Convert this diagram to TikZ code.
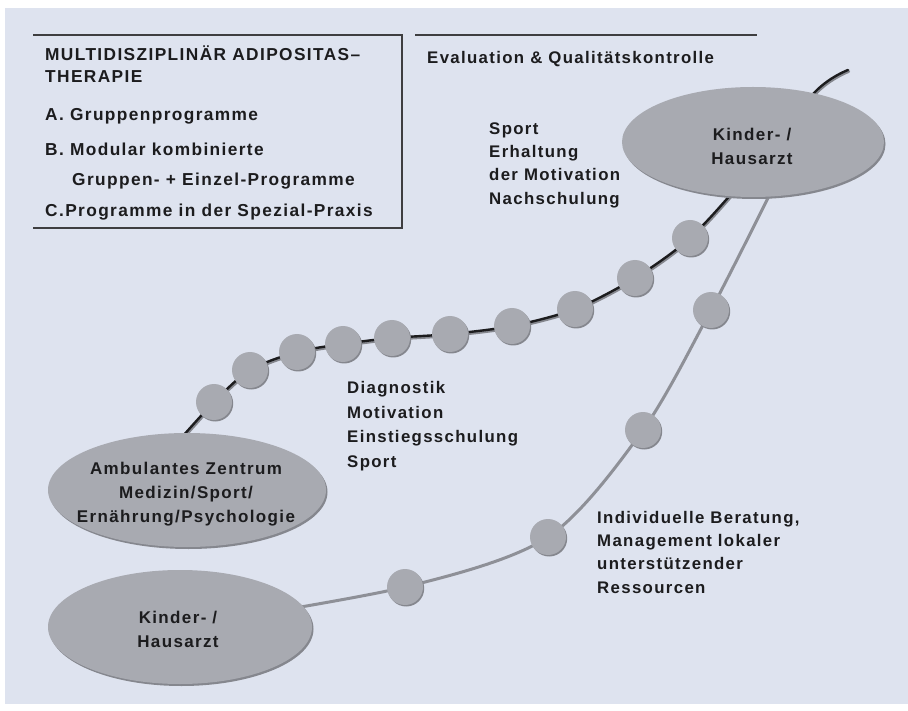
\documentclass[tikz,border=0pt]{standalone}
\usepackage{fontspec}
\setmainfont{Liberation Sans}[LetterSpace=8]
\usetikzlibrary{shapes.geometric,shadows}
\definecolor{bgc}{HTML}{DEE3EF}
\definecolor{blob}{HTML}{A8AAB1}
\definecolor{blobsh}{HTML}{85878E}
\definecolor{lowc}{HTML}{8E9097}
\definecolor{ink}{HTML}{1C1C1E}
\pgfdeclarelayer{back}
\pgfdeclarelayer{lines}
\pgfsetlayers{back,lines,main}
\begin{document}
\begin{tikzpicture}[x=1pt,y=-1pt,
  oval/.style={ellipse, fill=blob, inner sep=0pt,
    copy shadow={shadow xshift=1.5pt, shadow yshift=-2pt, fill=blobsh, draw=none}},
  ovaltext/.style={align=center, inner sep=0pt, text=ink,
    font=\fontsize{17}{24}\selectfont\bfseries},
  bead/.style={circle, fill=blob, inner sep=0pt, minimum size=36pt,
    copy shadow={shadow xshift=1.2pt, shadow yshift=-1.5pt, fill=blobsh, draw=none}},
  lbl/.style={anchor=base west, inner sep=0pt, text=ink,
    font=\fontsize{16.8}{20}\selectfont\bfseries},
  boxlbl/.style={lbl, font=\fontsize{17.3}{20}\selectfont\bfseries},
  frame/.style={draw=ink!85, line width=1.3pt},
  upline/.style={draw=ink, line width=2.4pt, line cap=round},
  upshade/.style={draw=blobsh, line width=3pt, line cap=round},
  lowline/.style={draw=lowc, line width=3pt, line cap=round}]
\begin{pgfonlayer}{back}
\fill[white] (0,0) rectangle (908,711);
\fill[bgc] (5,8) rectangle (908,704);
\end{pgfonlayer}
\useasboundingbox (0,0) rectangle (908,711);

% frames
\draw[frame] (33,35) -- (402,35) -- (402,228) -- (33,228);
\draw[frame] (415,35) -- (757,35);

% box text
\node[boxlbl] (t1) at (45,61) {MULTIDISZIPLINÄR ADIPOSITAS–};
\node[boxlbl] (t2) at (45,83) {THERAPIE};
\node[boxlbl] (t3) at (45,121) {A. Gruppenprogramme};
\node[boxlbl] (t4) at (45,156) {B. Modular kombinierte};
\node[boxlbl] (t5) at (72,186) {Gruppen- + Einzel-Programme};
\node[boxlbl] (t6) at (45,217) {C.Programme in der Spezial-Praxis};
\node[lbl] (ev) at (427,64) {Evaluation \& Qualitätskontrolle};

% labels
\node[lbl] (s1) at (489,135) {Sport};
\node[lbl] (s2) at (489,158) {Erhaltung};
\node[lbl] (s3) at (489,181) {der Motivation};
\node[lbl] (s4) at (489,205) {Nachschulung};
\node[lbl] (d1) at (347,394) {Diagnostik};
\node[lbl] (d2) at (347,418) {Motivation};
\node[lbl] (d3) at (347,442) {Einstiegsschulung};
\node[lbl] (d4) at (347,467) {Sport};
\node[lbl] (i1) at (597,523) {Individuelle Beratung,};
\node[lbl] (i2) at (597,546) {Management lokaler};
\node[lbl] (i3) at (597,569) {unterstützender};
\node[lbl] (i4) at (597,593) {Ressourcen};

% ellipses
\node[oval, minimum width=278pt, minimum height=114pt] (lz) at (187,490) {};
\node[oval, minimum width=264pt, minimum height=114pt] (kb) at (180,627) {};
\node[oval, minimum width=262pt, minimum height=110pt] (kr) at (753,142) {};
\node[ovaltext] (lzt) at (186,494) {Ambulantes Zentrum\\Medizin/Sport/\\Ernährung/Psychologie};
\node[ovaltext] (kbt) at (178,629) {Kinder- /\\Hausarzt};
\node[ovaltext] (krt) at (752,146) {Kinder- /\\Hausarzt};

% bead positions
\coordinate (us) at (175,445);
\coordinate (c1) at (214,402);
\coordinate (c2) at (250,370);
\coordinate (c3) at (297,352);
\coordinate (c4) at (343,344);
\coordinate (c5) at (392,338);
\coordinate (c6) at (450,334);
\coordinate (c7) at (512,326);
\coordinate (c8) at (575,309);
\coordinate (c9) at (635,278);
\coordinate (c10) at (690,238);
\coordinate (h1) at (745,178);
\coordinate (h2) at (815,92);
\coordinate (ue) at (848,70);
\coordinate (l1) at (405,587);
\coordinate (l2) at (548,537);
\coordinate (l3) at (643,430);
\coordinate (l4) at (711,310);
\coordinate (le) at (772,190);

\begin{pgfonlayer}{lines}
\draw[upshade, transform canvas={shift={(0.8pt,-1.4pt)}}] plot[smooth] coordinates {(us) (c1) (c2) (c3) (c4) (c5) (c6) (c7) (c8) (c9) (c10) (h1) (h2) (ue)};
\draw[upline] plot[smooth] coordinates {(us) (c1) (c2) (c3) (c4) (c5) (c6) (c7) (c8) (c9) (c10) (h1) (h2) (ue)};
\draw[lowline] plot[smooth] coordinates {(kb.center) (l1) (l2) (l3) (l4) (le)};
\end{pgfonlayer}

\foreach \c in {c1,c2,c3,c4,c5,c6,c7,c8,c9,c10,l1,l2,l3,l4}
  \node[bead] (b\c) at (\c) {};
\end{tikzpicture}
\end{document}
